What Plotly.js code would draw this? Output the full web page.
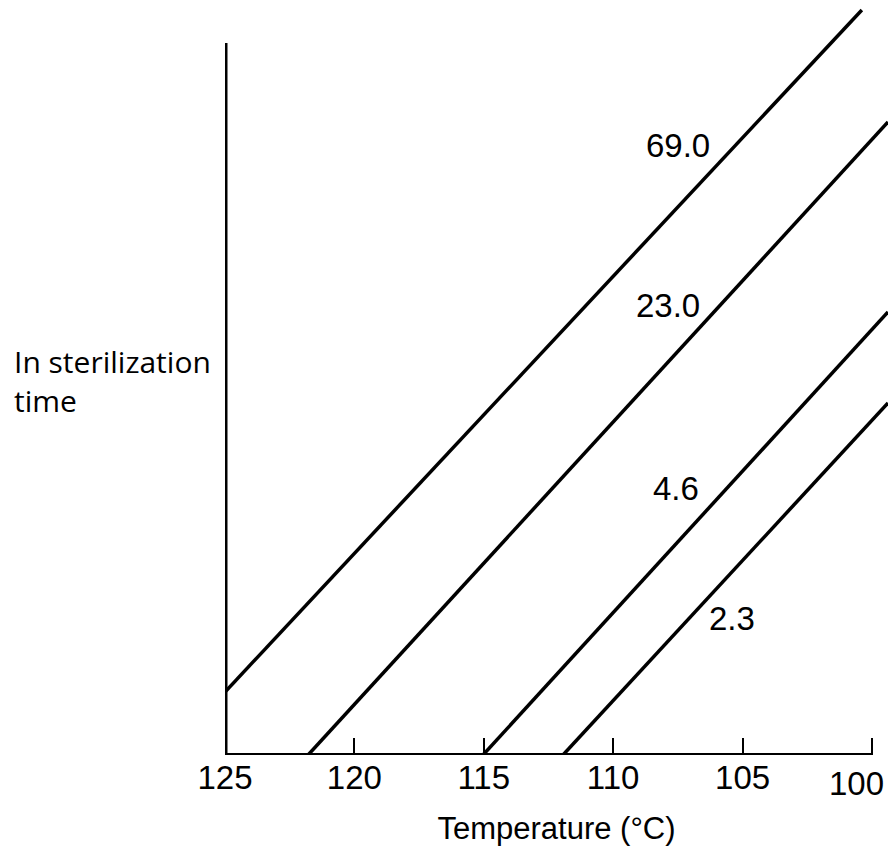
<!DOCTYPE html>
<html>
<head>
<meta charset="utf-8">
<script src="https://cdn.plot.ly/plotly-3.0.1.min.js"></script>
<style>html,body{margin:0;padding:0;background:#fff;}#chart{width:888px;height:847px;}</style>
</head>
<body>
<div id="chart"></div>
<script>
// Temperature (°C) endpoints and ln sterilization time (arbitrary units) for each line
const seriesNames = ["69.0", "23.0", "4.6", "2.3"];
const temp690 = [125, 100.39];
const lnt690 = [0.63, 7.45];
const temp230 = [121.79, 99.38];
const lnt230 = [0, 6.33];
const temp46 = [115.03, 99.38];
const lnt46 = [0, 4.43];
const temp23 = [111.94, 99.38];
const lnt23 = [0, 3.52];

// label positions (temperature, ln time)
const labelTemp = [107.50, 107.88, 107.57, 105.41];
const labelLnt = [6.10, 4.50, 2.67, 1.37];

const tickVals = [125, 120, 115, 110, 105, 100];
const tickText = ["125", "120", "115", "110", "105", ""];
const lastTickLabel = "100";

const lineStyle = {color: "#000", width: 3.5};
const traces = [
  [temp690, lnt690], [temp230, lnt230], [temp46, lnt46], [temp23, lnt23]
].map((d, i) => ({
  x: d[0], y: d[1], mode: "lines", type: "scatter",
  name: seriesNames[i], line: lineStyle, hoverinfo: "skip"
}));

const numFont = {family: "Liberation Sans, Arial, sans-serif", size: 33, color: "#000"};
const annotations = seriesNames.map((t, i) => ({
  x: labelTemp[i], y: labelLnt[i], xref: "x", yref: "y",
  text: t, showarrow: false, font: numFont
}));
// last tick label, pulled left so it stays inside the page like the reference
annotations.push({
  x: tickVals[5], xref: "x", yref: "paper", y: -0.011,
  xanchor: "right", yanchor: "top", xshift: 14,
  text: lastTickLabel, showarrow: false, font: numFont
});
annotations.push({
  xref: "paper", yref: "paper", x: -0.322, y: 0.496,
  xanchor: "left", yanchor: "middle", align: "left",
  text: "In sterilization<br>time", showarrow: false,
  font: {family: "Open Sans, sans-serif", size: 30, color: "#000"}
});

const layout = {
  width: 888, height: 847,
  margin: {l: 225, r: 0, t: 0, b: 92},
  paper_bgcolor: "#fff", plot_bgcolor: "#fff",
  showlegend: false,
  xaxis: {
    range: [125, 99.38],
    tickvals: tickVals, ticktext: tickText,
    ticks: "inside", ticklen: 17, tickwidth: 2, tickcolor: "#000",
    showline: false, zeroline: false, showgrid: false,
    tickfont: numFont,
    title: {text: "Temperature (°C)", standoff: 22,
      font: {family: "Liberation Sans, Arial, sans-serif", size: 31, color: "#000"}}
  },
  yaxis: {
    range: [0, 7.55], visible: false, showgrid: false, zeroline: false
  },
  shapes: [
    {type: "line", xref: "x", yref: "y", x0: 125, x1: 100, y0: 0, y1: 0,
     line: {color: "#000", width: 4}},
    {type: "line", xref: "x", yref: "y", x0: 125, x1: 125, y0: 0, y1: 7.12,
     line: {color: "#000", width: 5}}
  ],
  annotations: annotations
};

Plotly.newPlot("chart", traces, layout, {displayModeBar: false, staticPlot: true});
</script>
</body>
</html>
